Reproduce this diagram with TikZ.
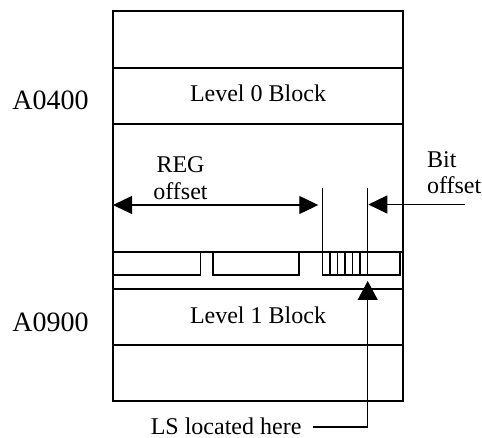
\documentclass[tikz,border=0pt]{standalone}
\usepackage{fontspec}
\setmainfont{Liberation Serif}
\usetikzlibrary{arrows.meta}
\begin{document}
\begin{tikzpicture}[x=1pt,y=-1pt, line width=1.2pt,
  lbl/.style={inner sep=0pt, font=\fontsize{24}{28}\selectfont},
  addr/.style={inner sep=0pt, anchor=base, font=\fontsize{28}{32}\selectfont},
  hd/.tip={Triangle[length=19pt,width=18pt]},
  hdw/.tip={Triangle[length=19pt,width=20pt]}]
\useasboundingbox (0,0) rectangle (482,438);
% outer frame and bands
\draw (113,11) rectangle (403,401);
\draw (113,68) -- (403,68);
\draw (113,124) -- (403,124);
\draw (113,252) -- (403,252);
\draw (113,289) -- (403,289);
\draw (113,345) -- (403,345);
% register boxes
\draw (113,252) rectangle (200.7,275);
\draw (213,252) rectangle (299,275);
\draw (322.5,252) rectangle (400,275);
\foreach \x in {330,337.5,345,352.5,360} \draw (\x,252) -- (\x,275);
\draw (322.5,188) -- (322.5,252);
\draw (367.7,188) -- (367.7,275);
% labels
\node[addr] (a0) at (50.5,110) {A0400};
\node[addr] (a1) at (50.5,331) {A0900};
\node[lbl, anchor=base] (l0) at (258,101.7) {Level 0 Block};
\node[lbl, anchor=base] (l1) at (258,323.3) {Level 1 Block};
\node[lbl, anchor=base] (reg1) at (180.5,172.7) {REG};
\node[lbl, anchor=base] (reg2) at (180.5,199.3) {offset};
\node[lbl, anchor=base west] (bit1) at (426.5,167.3) {Bit};
\node[lbl, anchor=base west] (bit2) at (426.5,193.3) {offset};
\node[lbl, anchor=base east] (ls) at (302,434) {LS located here};
% arrows
\coordinate (regL) at (113,205);
\coordinate (regR) at (318.3,205);
\coordinate (bitS) at (465,204.5);
\coordinate (bitE) at (368.3,204.5);
\coordinate (lsS) at (312.7,427);
\coordinate (lsC) at (367.7,427);
\coordinate (lsE) at (367.7,281);
\draw[hd-hd] (regL) -- (regR);
\draw[-hd] (bitS) -- (bitE);
\draw[-hdw] (lsS) -- (lsC) -- (lsE);
\end{tikzpicture}
\end{document}
